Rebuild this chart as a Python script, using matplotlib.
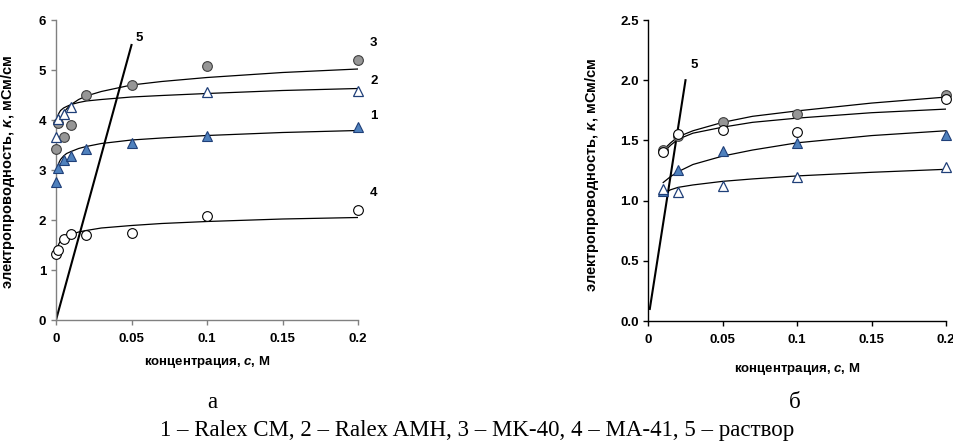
import matplotlib
matplotlib.use("Agg")
import matplotlib.pyplot as plt

plt.rcParams['font.family'] = ['Liberation Sans', 'DejaVu Sans']
plt.rcParams['mathtext.fontset'] = 'custom'
plt.rcParams['mathtext.it'] = 'Liberation Sans:bold:italic'
plt.rcParams['mathtext.rm'] = 'Liberation Sans:bold'
plt.rcParams['mathtext.bf'] = 'Liberation Sans:bold'

# ---------------- panel а ----------------
a_c = [0.0, 0.001, 0.005, 0.01, 0.02, 0.05, 0.1, 0.2]
a_s1 = [2.77, 3.05, 3.21, 3.28, 3.43, 3.55, 3.68, 3.86]   # Ralex CM
a_s2_c = [0.0, 0.001, 0.005, 0.01, 0.1, 0.2]
a_s2 = [3.67, 4.03, 4.13, 4.27, 4.57, 4.59]               # Ralex AMH
a_s3 = [3.43, 3.95, 3.67, 3.90, 4.50, 4.69, 5.09, 5.21]   # MK-40
a_s4 = [1.33, 1.41, 1.62, 1.73, 1.70, 1.75, 2.08, 2.21]   # MA-41

a_fit_c = [0.0005, 0.001, 0.002, 0.003, 0.005, 0.007, 0.01, 0.015, 0.02, 0.03,
           0.05, 0.07, 0.1, 0.15, 0.2]
a_fit1 = [2.96, 3.05, 3.15, 3.21, 3.28, 3.33, 3.37, 3.43, 3.47, 3.53,
          3.60, 3.64, 3.69, 3.75, 3.79]
a_fit2_c = a_fit_c[1:]
a_fit2 = [4.07, 4.14, 4.19, 4.24, 4.27, 4.31, 4.35, 4.38, 4.41,
          4.46, 4.49, 4.53, 4.59, 4.63]
a_fit3_c = a_fit_c[2:]
a_fit3 = [3.92, 4.02, 4.14, 4.22, 4.31, 4.41, 4.48, 4.57,
          4.70, 4.77, 4.85, 4.95, 5.02]
a_fit4_c = a_fit_c[1:]
a_fit4 = [1.45, 1.53, 1.58, 1.63, 1.67, 1.71, 1.76, 1.79,
          1.84, 1.89, 1.93, 1.97, 2.02, 2.05]
a_sol_c = [0.0, 0.05]
a_sol = [0.0, 5.5]

# ---------------- panel б ----------------
b_c = [0.01, 0.02, 0.05, 0.1, 0.2]
b_s1 = [1.08, 1.255, 1.41, 1.48, 1.545]    # filled triangles
b_s2 = [1.095, 1.075, 1.12, 1.195, 1.28]   # open triangles
b_s3 = [1.42, 1.54, 1.65, 1.72, 1.88]      # gray circles
b_s4 = [1.40, 1.555, 1.585, 1.57, 1.84]    # open circles

b_fit_c = [0.01, 0.015, 0.02, 0.03, 0.05, 0.07, 0.1, 0.15, 0.2]
b_fit1 = [1.15, 1.20, 1.24, 1.30, 1.37, 1.42, 1.48, 1.54, 1.58]
b_fit2 = [1.06, 1.09, 1.11, 1.13, 1.16, 1.18, 1.205, 1.235, 1.26]
b_fit3 = [1.42, 1.48, 1.53, 1.58, 1.65, 1.70, 1.745, 1.81, 1.86]
b_fit4 = [1.40, 1.46, 1.51, 1.56, 1.61, 1.65, 1.685, 1.73, 1.76]
b_sol_c = [0.001, 0.025]
b_sol = [0.1, 2.0]

xticks = [0, 0.05, 0.1, 0.15, 0.2]
xticklabels = ['0', '0.05', '0.1', '0.15', '0.2']
a_yticks = [0, 1, 2, 3, 4, 5, 6]
b_yticks = [0.0, 0.5, 1.0, 1.5, 2.0, 2.5]
b_yticklabels = ['0.0', '0.5', '1.0', '1.5', '2.0', '2.5']

xlabel = 'концентрация, $c$, М'
ylabel = 'электропроводность, $κ$, мСм/см'
caption = '1 – Ralex CM, 2 – Ralex AMH, 3 – MK-40, 4 – MA-41, 5 – раствор'

blue_fill = '#4F81BD'
navy = '#1F3F78'
gray_fill = '#969696'
ms = 7

fig = plt.figure(figsize=(9.54, 4.48), dpi=100)
axA = fig.add_axes([56/954, 128/448, 302/954, 300/448])
axB = fig.add_axes([648.3/954, 127/448, 297.7/954, 301/448])


def style(ax, spine_color):
    for s in ['top', 'right']:
        ax.spines[s].set_visible(False)
    for s in ['left', 'bottom']:
        ax.spines[s].set_color(spine_color)
        ax.spines[s].set_linewidth(1.0)
    ax.tick_params(axis='both', direction='out', length=3.5, width=1.0,
                   color=spine_color, labelsize=9.5)
    ax.tick_params(axis='x', pad=5.5)
    ax.tick_params(axis='y', pad=3.5)
    for lab in ax.get_xticklabels() + ax.get_yticklabels():
        lab.set_fontweight('bold')


curve_kw = dict(color='black', lw=0.9, zorder=2)

# panel а
axA.plot(a_fit_c, a_fit1, **curve_kw)
axA.plot(a_fit2_c, a_fit2, **curve_kw)
axA.plot(a_fit3_c, a_fit3, **curve_kw)
axA.plot(a_fit4_c, a_fit4, **curve_kw)
axA.plot(a_sol_c, a_sol, color='black', lw=1.5, zorder=2)
axA.plot(a_c, a_s4, 'o', ms=ms, mfc='white', mec='black', mew=0.8, zorder=3, clip_on=False)
axA.plot(a_c, a_s3, 'o', ms=ms, mfc=gray_fill, mec='#404040', mew=0.8, zorder=3, clip_on=False)
axA.plot(a_s2_c, a_s2, '^', ms=ms, mfc='white', mec=navy, mew=0.9, zorder=3, clip_on=False)
axA.plot(a_c, a_s1, '^', ms=ms, mfc=blue_fill, mec=navy, mew=0.8, zorder=3, clip_on=False)
axA.set_xlim(0, 0.2)
axA.set_ylim(0, 6)
axA.set_xticks(xticks)
axA.set_xticklabels(xticklabels)
axA.set_yticks(a_yticks)
style(axA, '#808080')
axA.set_xlabel(xlabel, fontsize=9.5, fontweight='bold', labelpad=7)
axA.set_ylabel(ylabel, fontsize=10.5, fontweight='bold')
axA.yaxis.set_label_coords(-(56 - 17.5) / 302, (320 - 172) / 300)
for lbl, (xx, yy) in zip(['3', '2', '1', '4', '5'],
                         [(0.208, 5.55), (0.208, 4.79), (0.208, 4.09), (0.208, 2.55), (0.0525, 5.65)]):
    axA.text(xx, yy, lbl, fontsize=9.5, fontweight='bold', ha='left', va='center', clip_on=False)

# panel б
axB.plot(b_fit_c, b_fit1, **curve_kw)
axB.plot(b_fit_c, b_fit2, **curve_kw)
axB.plot(b_fit_c, b_fit3, **curve_kw)
axB.plot(b_fit_c, b_fit4, **curve_kw)
axB.plot(b_sol_c, b_sol, color='black', lw=1.5, zorder=2)
axB.plot(b_c, b_s3, 'o', ms=ms, mfc=gray_fill, mec='#404040', mew=0.8, zorder=3, clip_on=False)
axB.plot(b_c, b_s4, 'o', ms=ms, mfc='white', mec='black', mew=0.8, zorder=3, clip_on=False)
axB.plot(b_c, b_s1, '^', ms=ms, mfc=blue_fill, mec=navy, mew=0.8, zorder=3, clip_on=False)
axB.plot(b_c, b_s2, '^', ms=ms, mfc='white', mec=navy, mew=0.9, zorder=3, clip_on=False)
axB.set_xlim(0, 0.2)
axB.set_ylim(0, 2.5)
axB.set_xticks(xticks)
axB.set_xticklabels(xticklabels)
axB.set_yticks(b_yticks)
axB.set_yticklabels(b_yticklabels)
style(axB, 'black')
axB.set_xlabel(xlabel, fontsize=9.5, fontweight='bold', labelpad=11)
axB.set_ylabel(ylabel, fontsize=10.5, fontweight='bold')
axB.yaxis.set_label_coords(-(648.3 - 601) / 297.7, (321 - 175) / 301)
axB.text(0.0285, 2.13, '5', fontsize=9.5, fontweight='bold', ha='left', va='center')

serif = ['Liberation Serif', 'DejaVu Serif']
fig.text(212/954, 1 - 402/448, 'а', fontsize=16.5, family=serif, ha='center', va='center')
fig.text(795/954, 1 - 402/448, 'б', fontsize=16.5, family=serif, ha='center', va='center')
fig.text(477/954, 1 - 430/448, caption, fontsize=16.5, family=serif, ha='center', va='center')

fig.savefig('out.png', dpi=100, facecolor='white')
